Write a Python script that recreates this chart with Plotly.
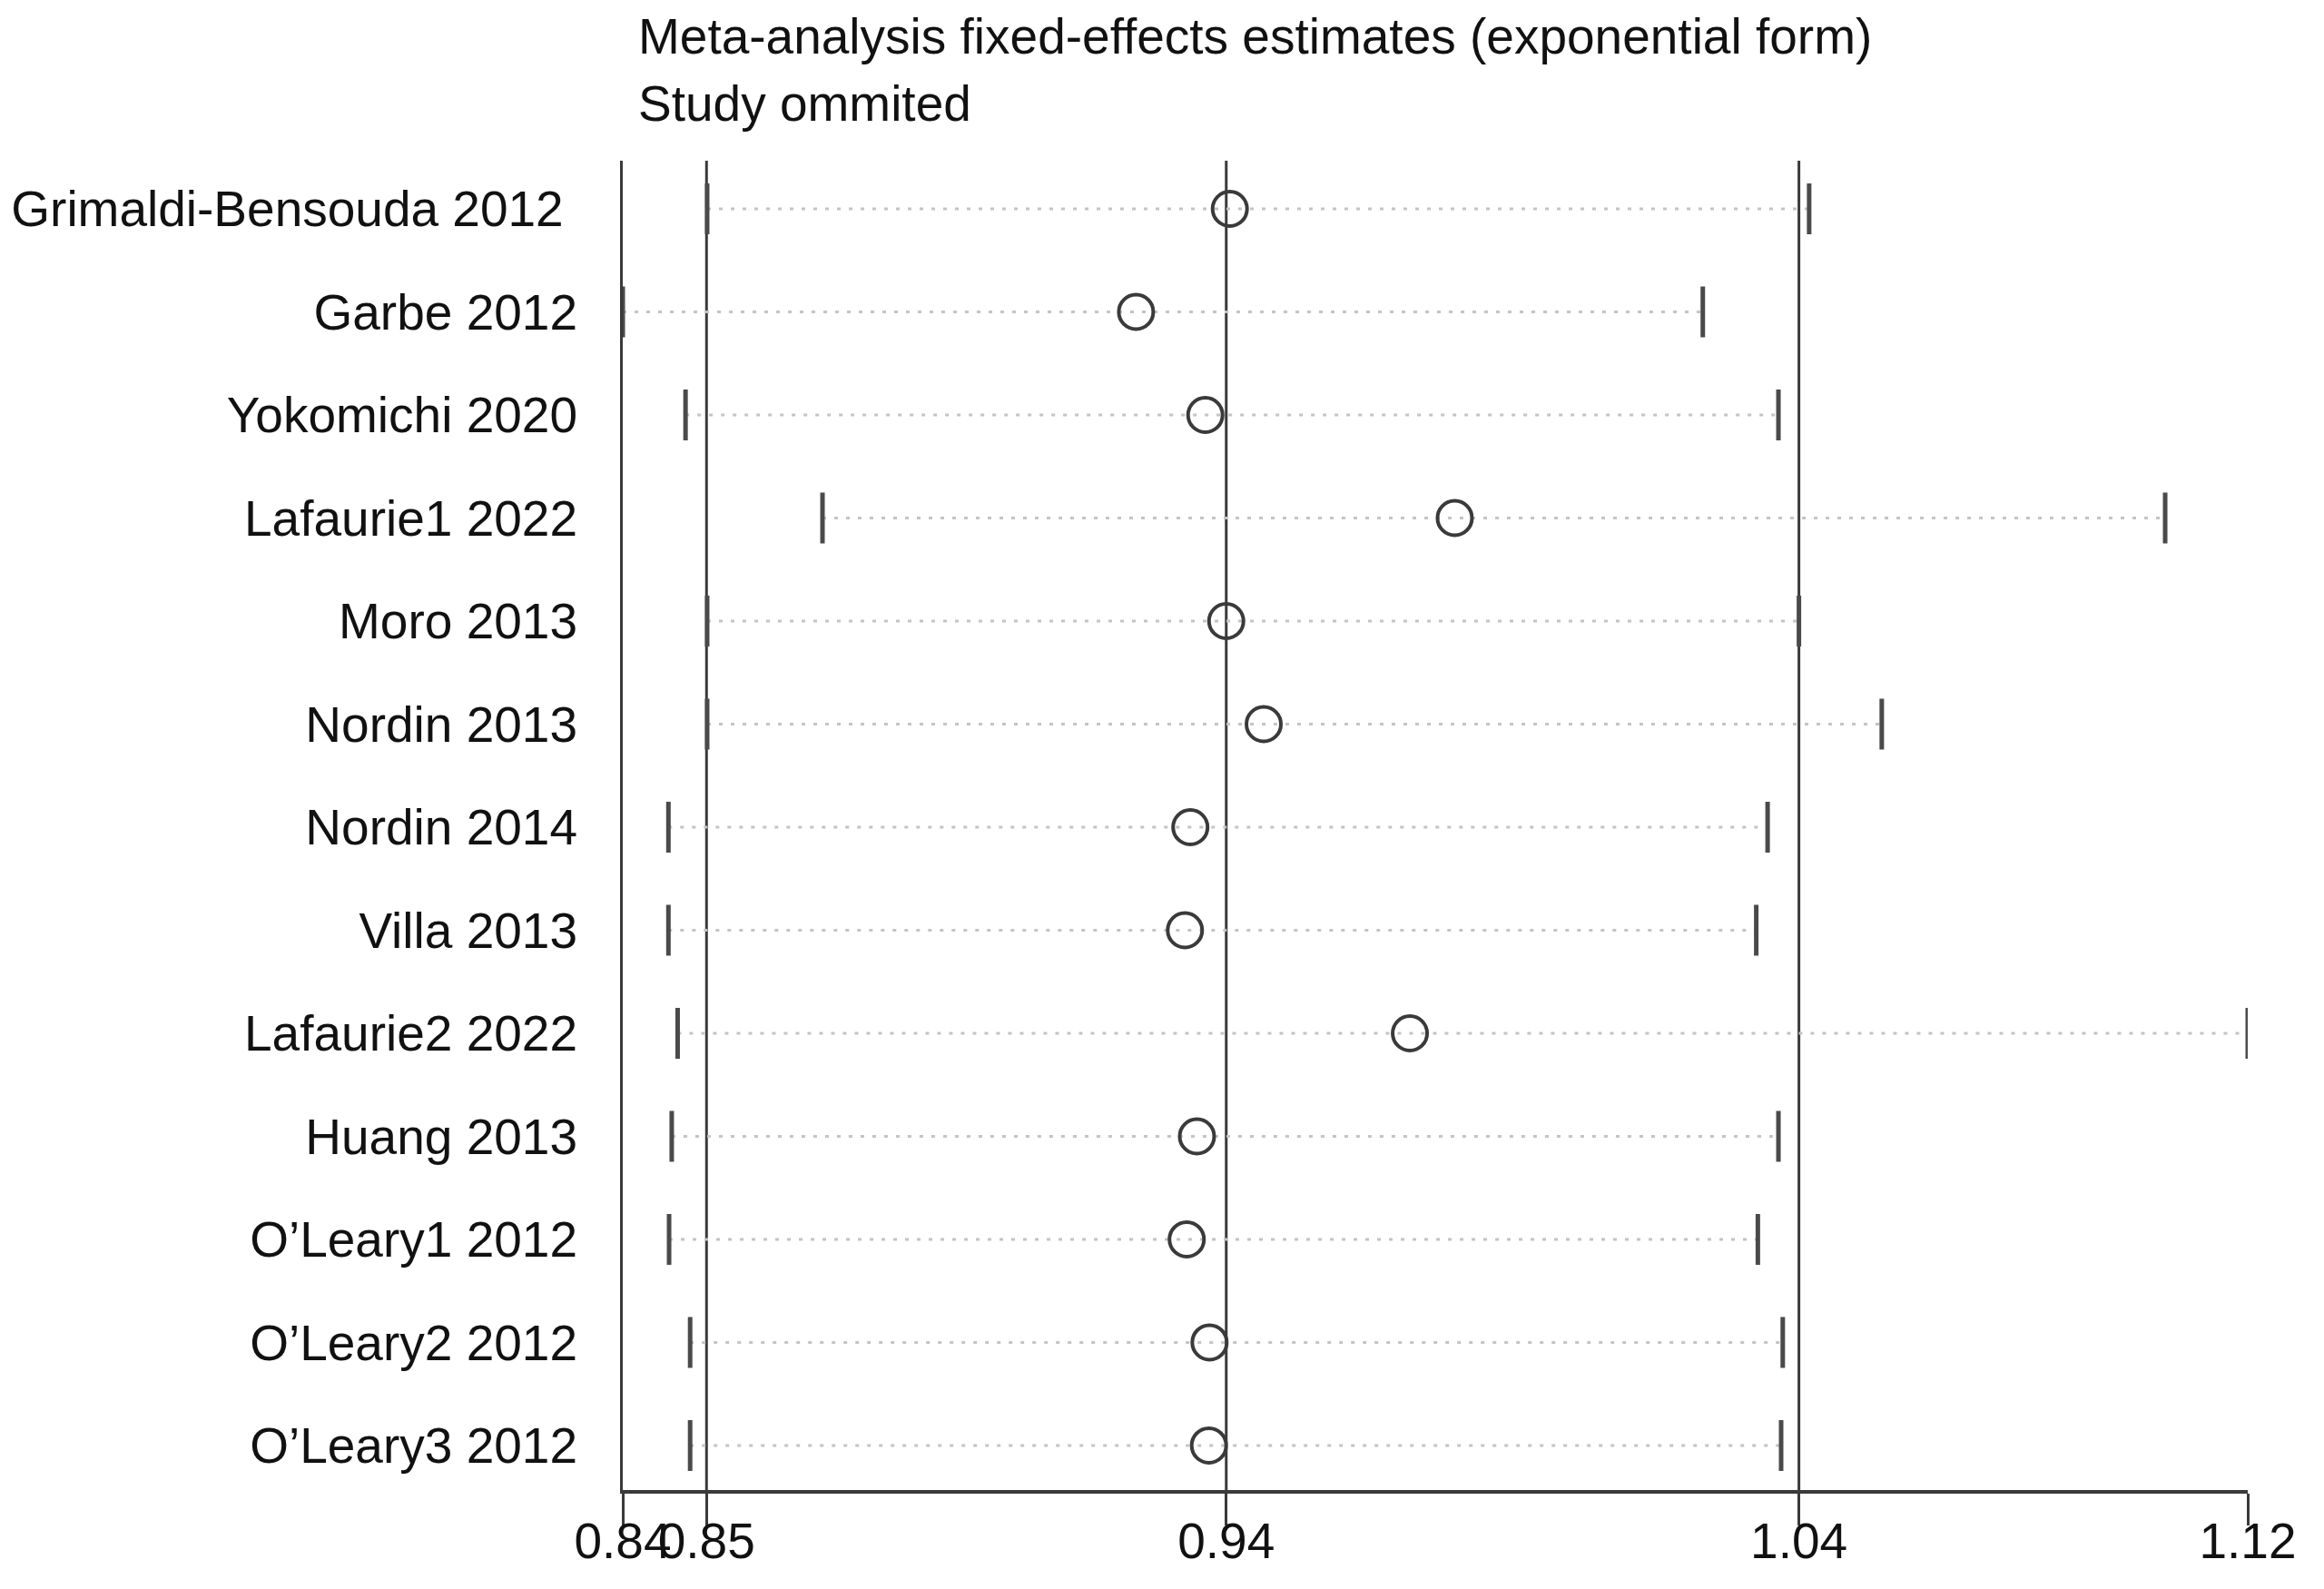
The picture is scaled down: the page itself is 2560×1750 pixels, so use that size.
import math
import plotly.graph_objects as go

# ---------------- data ----------------
studies = [
    "Grimaldi-Bensouda 2012\u00a0",
    "Garbe 2012",
    "Yokomichi 2020",
    "Lafaurie1 2022",
    "Moro 2013",
    "Nordin 2013",
    "Nordin 2014",
    "Villa 2013",
    "Lafaurie2 2022",
    "Huang 2013",
    "O\u2019Leary1 2012",
    "O\u2019Leary2 2012",
    "O\u2019Leary3 2012",
]
estimate = [0.9375, 0.9219, 0.9334, 0.9760, 0.9369, 0.9432, 0.9309,
            0.9300, 0.9682, 0.9320, 0.9303, 0.9341, 0.9340]
lower = [0.8538, 0.8410, 0.8505, 0.8716, 0.8538, 0.8538, 0.8479,
         0.8479, 0.8493, 0.8484, 0.8480, 0.8512, 0.8512]
upper = [1.0399, 1.0203, 1.0342, 1.1083, 1.0380, 1.0535, 1.0322,
         1.0301, 1.1248, 1.0342, 1.0304, 1.0350, 1.0347]

overall_lower = 0.8537
overall_est = 0.9369
overall_upper = 1.0380

title_lines = ["Meta-analysis fixed-effects estimates (exponential form)",
               "Study ommited"]

# ---------------- derived ----------------
x_min = min(lower)
x_max = max(upper)
tick_values = [x_min, overall_lower, overall_est, overall_upper, x_max]
tick_text = [f"{v:.2f}" for v in tick_values]

FONT = "Liberation Sans, Arial, sans-serif"
DARK = "#3a3a3a"

fig = go.Figure()

# dotted CI lines
ci_x, ci_y = [], []
for s, lo, hi in zip(studies, lower, upper):
    ci_x += [lo, hi, None]
    ci_y += [s, s, None]
fig.add_trace(go.Scatter(
    x=ci_x, y=ci_y, mode="lines",
    line=dict(color="#c4c4c4", width=3, dash="4px,9px"),
    hoverinfo="skip", showlegend=False))

# CI caps
for vals in (lower, upper):
    fig.add_trace(go.Scatter(
        x=vals, y=studies, mode="markers",
        marker=dict(symbol="line-ns", size=40, color="#4a4a4a",
                    line=dict(width=5, color="#4a4a4a")),
        showlegend=False))

# estimates
fig.add_trace(go.Scatter(
    x=estimate, y=studies, mode="markers",
    marker=dict(symbol="circle-open", size=38, color=DARK,
                line=dict(width=4, color=DARK)),
    showlegend=False))

# overall estimate and CI vertical lines
for v in (overall_lower, overall_est, overall_upper):
    fig.add_shape(type="line", xref="x", yref="paper",
                  x0=v, x1=v, y0=0, y1=1,
                  line=dict(color=DARK, width=3), layer="below")

# title lines
for txt, yy in zip(title_lines, [1.0936, 1.043]):
    fig.add_annotation(text=txt, xref="paper", yref="paper",
                       x=0.0085, y=yy, xanchor="left", yanchor="middle",
                       showarrow=False,
                       font=dict(family=FONT, size=55, color="#111111"))

n = len(studies)
fig.update_layout(
    width=2560, height=1750,
    margin=dict(l=678, r=92, t=169, b=117, autoexpand=False),
    paper_bgcolor="white", plot_bgcolor="white",
    showlegend=False,
    font=dict(family=FONT, size=55, color="#111111"),
    xaxis=dict(
        type="log",
        automargin=False,
        range=[math.log10(x_min), math.log10(x_max)],
        tickmode="array", tickvals=tick_values, ticktext=tick_text,
        tickangle=0,
        ticks="outside", ticklen=35, tickwidth=3, tickcolor=DARK,
        ticklabelstandoff=-30,
        showline=True, linecolor=DARK, linewidth=4,
        showgrid=False, zeroline=False,
        tickfont=dict(family=FONT, size=55, color="#111111"),
    ),
    yaxis=dict(
        type="category",
        automargin=False,
        categoryorder="array", categoryarray=studies,
        range=[n - 1 + 0.432, -0.467],
        showline=True, linecolor=DARK, linewidth=3,
        ticks="", showgrid=False, zeroline=False,
        ticklabelstandoff=36,
        tickfont=dict(family=FONT, size=55, color="#111111"),
    ),
)

fig.write_html("out.html")
